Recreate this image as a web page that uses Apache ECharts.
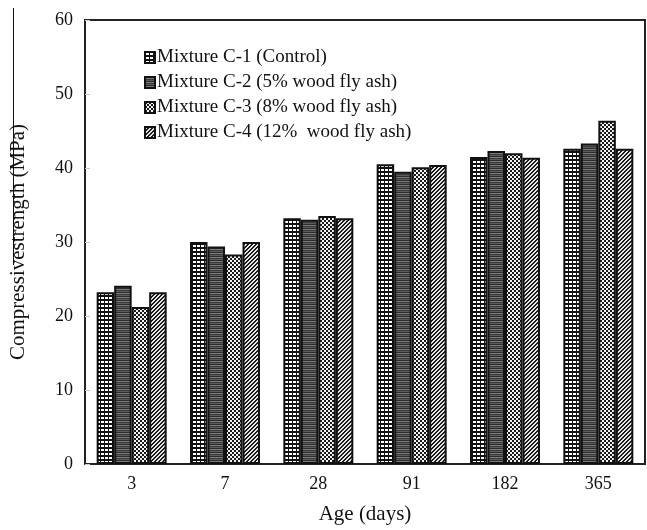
<!DOCTYPE html>
<html>
<head>
<meta charset="utf-8">
<script src="https://cdn.jsdelivr.net/npm/echarts@6/dist/echarts.min.js"></script>
<style>
  html, body { margin: 0; padding: 0; background: #fff; }
  #chart { width: 647px; height: 530px; }
</style>
</head>
<body>
<div id="chart"></div>
<script>
// ages in days
const ages = ["3", "7", "28", "91", "182", "365"];
const seriesNames = [
  "Mixture C-1 (Control)",
  "Mixture C-2 (5% wood fly ash)",
  "Mixture C-3 (8% wood fly ash)",
  "Mixture C-4 (12%  wood fly ash)"
];
const mixC1 = [23.2, 30.0, 33.2, 40.5, 41.5, 42.6];
const mixC2 = [24.1, 29.4, 33.0, 39.5, 42.3, 43.3];
const mixC3 = [21.2, 28.3, 33.5, 40.1, 42.0, 46.4];
const mixC4 = [23.2, 30.0, 33.2, 40.4, 41.4, 42.6];
const yTicks = [0, 10, 20, 30, 40, 50, 60];

// small canvas tiles used as hatch fills
function tile(w, h, draw) {
  const c = document.createElement("canvas");
  c.width = w;
  c.height = h;
  draw(c.getContext("2d"));
  return { image: c, repeat: "repeat" };
}

const gridFill = tile(4, 4, function (g) {
  g.fillStyle = "#111";
  g.fillRect(0, 0, 4, 4);
  g.fillStyle = "#fff";
  g.fillRect(1, 1, 3, 2);
});
const stripeFill = tile(4, 4, function (g) {
  const rows = ["#2e2e2e", "#7a7a7a", "#3c3c3c", "#5a5a5a"];
  rows.forEach(function (col, i) {
    g.fillStyle = col;
    g.fillRect(0, i, 4, 1);
  });
});
const checkFill = tile(4, 4, function (g) {
  g.fillStyle = "#f4f4f4";
  g.fillRect(0, 0, 4, 4);
  g.fillStyle = "#1a1a1a";
  g.fillRect(0, 0, 2, 2);
  g.fillRect(2, 2, 2, 2);
});
const hatchFill = tile(4, 4, function (g) {
  g.fillStyle = "#e6e6e6";
  g.fillRect(0, 0, 4, 4);
  g.fillStyle = "#1a1a1a";
  for (let i = 0; i < 4; i++) {
    g.fillRect(i, 3 - i, 1, 1);
    g.fillRect((i + 1) % 4, 3 - i, 1, 1);
  }
});

const fills = [gridFill, stripeFill, checkFill, hatchFill];
const values = [mixC1, mixC2, mixC3, mixC4];

const chart = echarts.init(document.getElementById("chart"), null, { renderer: "canvas" });

const serif = "'Liberation Serif', 'DejaVu Serif', serif";

const options = {
  backgroundColor: "#fff",
  animation: false,
  textStyle: { fontFamily: serif, color: "#111" },
  grid: {
    left: 83,
    right: 2,
    top: 20,
    bottom: 60,
    show: true,
    borderColor: "#222",
    borderWidth: 2
  },
  legend: {
    orient: "vertical",
    left: 139,
    top: 43,
    itemWidth: 10,
    itemHeight: 11,
    itemGap: 6,
    icon: "rect",
    textStyle: { fontFamily: serif, fontSize: 19, color: "#111", padding: [0, 0, 0, -3] },
    data: seriesNames
  },
  xAxis: {
    type: "category",
    data: ages,
    name: "Age (days)",
    nameLocation: "middle",
    nameGap: 40,
    nameTextStyle: { fontFamily: serif, fontSize: 21, color: "#111" },
    axisLine: { lineStyle: { color: "#222", width: 2 } },
    axisTick: { inside: true, length: 5, lineStyle: { color: "#ccc" } },
    axisLabel: { fontFamily: serif, fontSize: 18, color: "#111", margin: 11 }
  },
  yAxis: {
    type: "value",
    min: yTicks[0],
    max: yTicks[yTicks.length - 1],
    interval: 10,
    name: "Compressivestrength (MPa)",
    nameLocation: "middle",
    nameGap: 56,
    nameTextStyle: { fontFamily: serif, fontSize: 21, color: "#111" },
    axisLine: { show: true, lineStyle: { color: "#222", width: 2 } },
    axisTick: { show: true, inside: true, length: 5, lineStyle: { color: "#ccc" } },
    splitLine: { show: false },
    axisLabel: { fontFamily: serif, fontSize: 18, color: "#111", margin: 12 }
  },
  series: seriesNames.map(function (name, i) {
    return {
      name: name,
      type: "bar",
      data: values[i],
      barGap: "0%",
      barCategoryGap: "25%",
      itemStyle: {
        color: fills[i],
        borderColor: "#111",
        borderWidth: 2
      }
    };
  }),
  graphic: [
    {
      type: "line",
      shape: { x1: 13.5, y1: 8, x2: 13.5, y2: 265 },
      style: { stroke: "#111", lineWidth: 1 }
    }
  ]
};

chart.setOption(options);
</script>
</body>
</html>
